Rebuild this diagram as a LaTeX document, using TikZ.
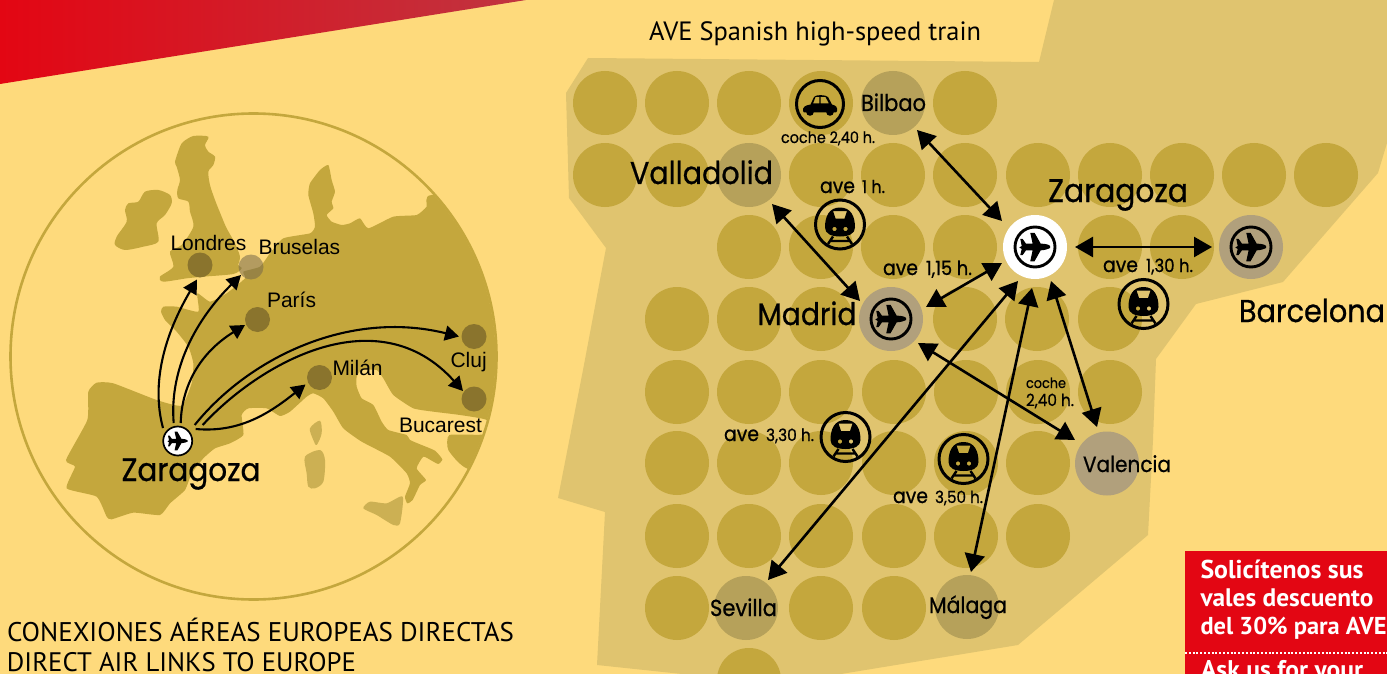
\documentclass[tikz,border=0pt]{standalone}
\usepackage{fontspec}
\setmainfont{Liberation Sans}
\newfontfamily\techfont[FakeBold=0.7]{Poppins}
\newfontfamily\dinfont{PT Sans}
\usetikzlibrary{arrows.meta,calc}
\definecolor{bgc}{HTML}{FEDA7C}
\definecolor{landc}{HTML}{C4A73D}
\definecolor{isle}{HTML}{CCB053}
\definecolor{mapc}{HTML}{E0C46F}
\definecolor{dotc}{HTML}{8A742D}
\definecolor{greyA}{HTML}{B6A15A}
\definecolor{greyB}{HTML}{B1A07C}
\definecolor{redc}{HTML}{E30613}
\definecolor{redm}{HTML}{D91C28}
\definecolor{redr}{HTML}{C03440}
\newcommand\fitw[2]{\resizebox{#1pt}{!}{#2}}
\newcommand\tech[2]{\scalebox{1}[1.1]{\fitw{#1}{\techfont #2}}}
\newcommand\din[2]{\fitw{#1}{\dinfont #2}}
\newcommand\dinb[2]{\fitw{#1}{\dinfont\bfseries #2}}
\tikzset{
  lab/.style={anchor=base west,inner sep=0pt,outer sep=0pt},
  disc/.style={circle,fill=landc,minimum size=64pt,inner sep=0pt,outer sep=0pt},
  greyone/.style={disc,fill=greyA},
  greytwo/.style={disc,fill=greyB},
  citydot/.style={circle,fill=dotc,minimum size=25pt,inner sep=0pt,outer sep=0pt},
  twoway/.style={line width=2.6pt,{Triangle[length=18pt,width=20pt]}-{Triangle[length=18pt,width=20pt]}},
  flight/.style={line width=2.1pt,-{Triangle[length=14pt,width=15pt]}},
  maplabel/.style={lab,font=\fontsize{21}{21}\selectfont},
  pics/planeglyph/.style={code={
    \fill (16,-1) .. controls (14,-3) and (10,-3.5) .. (6,-3.5) -- (-0.5,-15) -- (-5,-15) -- (-2.5,-3.5) -- (-9.5,-3.5)
      -- (-13,-8.5) -- (-15.5,-8.5) -- (-14,-1) -- (-16.5,0.5) -- (-14,2) -- (-15.5,8.5) -- (-13,8.5) -- (-9.5,3.5)
      -- (-2.5,3.5) -- (-5,15) -- (-0.5,15) -- (6,3.5) .. controls (10,3.5) and (14,2) .. (16,1) -- cycle;
  }},
  pics/planeicon/.style={code={
    \draw[line width=2.9pt] (0,0) circle[radius=20];
    \pic[scale=.95] {planeglyph};
  }},
  pics/trainicon/.style={code={
    \draw[line width=3pt] (0,0) circle[radius=24.5];
    \fill[even odd rule] (-15,3) .. controls (-15,-8) and (-11,-17) .. (0,-17) .. controls (11,-17) and (15,-8) .. (15,3)
        .. controls (15,9) and (9,12) .. (0,12) .. controls (-9,12) and (-15,9) .. (-15,3) -- cycle
      (-7,-13.5) -- (7,-13.5) -- (4.5,-6) -- (-4.5,-6) -- cycle
      (-5.5,4.5) circle[radius=2.2] (5.5,4.5) circle[radius=2.2];
    \draw[line width=2.4pt] (-7,12) -- (-12,19.5) (7,12) -- (12,19.5) (-9,16.5) -- (9,16.5);
  }},
  pics/caricon/.style={code={
    \draw[line width=3pt] (0,0) circle[radius=23.5];
    \fill[even odd rule] (-17,7) .. controls (-17.5,3) and (-15,1.5) .. (-9.5,0.5) -- (-6,-7) .. controls (-5,-9.5) and (6,-9.5) .. (8,-7)
        -- (12,0.5) .. controls (16,1.5) and (17.5,3) .. (17,7) -- (16,8.5) -- (-16,8.5) -- cycle
      (-4.5,-7) -- (-0.7,-7) -- (-0.7,-0.5) -- (-7,-0.5) -- cycle
      (0.7,-7) -- (5.5,-7) -- (9,-0.5) -- (0.7,-0.5) -- cycle;
    \fill (-10,8) circle[radius=3.8] (10,8) circle[radius=3.8];
  }},
}
\begin{document}
\begin{tikzpicture}[x=1pt,y=-1pt]
\useasboundingbox (0,0) rectangle (1387,674);
\clip (0,0) rectangle (1387,674);
\fill[bgc] (0,0) rectangle (1387,674);
% red corner
\shade[left color=redc,middle color=redm,right color=redr] (0,0) -- (526,0) -- (0,84) -- cycle;

% Europe map
\begin{scope}
  \clip (253.5,356.5) circle[radius=242];
  \begin{scope}[shift={(0,100)},x=0.33333pt,y=-0.33333pt]
    \fill[landc] plot[smooth cycle,tension=.45] coordinates {(550,125)(580,108)(625,110)(615,135)(625,155)(645,170)(640,195)(625,215)(630,255)(645,300)(665,350)(680,385)(705,430)(720,470)(715,495)(725,505)(700,522)(610,530)(560,535)(490,545)(480,530)(520,500)(510,455)(545,435)(580,380)(570,335)(565,305)(535,295)(532,270)(540,240)(530,200)(525,185)(540,140)};
    \fill[landc] plot[smooth cycle,tension=.45] coordinates {(375,330)(385,310)(415,305)(435,275)(475,270)(510,285)(515,310)(495,345)(470,370)(475,425)(430,440)(375,450)(345,435)(350,410)(380,365)};
    \fill[landc] plot[smooth cycle,tension=.3] coordinates {(265,875)(290,848)(340,850)(470,900)(545,917)(575,850)(580,790)(565,740)(530,695)(495,660)(483,635)(490,620)(530,620)(595,635)(592,580)(630,605)(680,580)(735,535)(730,515)(780,500)(810,460)(850,415)(930,400)(945,380)(940,340)(925,285)(930,250)(960,210)(985,195)(995,240)(1005,275)(995,305)(1000,325)(980,345)(995,365)(1025,375)(1050,370)(1080,355)(1105,385)(1180,350)(1250,345)(1280,320)(1295,285)(1600,300)(1700,700)(1600,1150)(1400,1105)(1345,1050)(1348,1005)(1455,1003)(1460,960)(1380,945)(1300,935)(1240,925)(1180,885)(1150,835)(1130,810)(1085,810)(1070,830)(1070,860)(1085,895)(1120,915)(1145,965)(1165,990)(1220,1005)(1230,1020)(1265,1035)(1305,1052)(1327,1078)(1315,1092)(1295,1082)(1270,1070)(1250,1105)(1278,1140)(1260,1155)(1238,1200)(1222,1210)(1215,1190)(1230,1150)(1220,1120)(1170,1070)(1085,1025)(1030,985)(1000,935)(970,895)(940,880)(920,890)(870,935)(840,948)(800,925)(745,925)(725,945)(730,1005)(690,1030)(645,1045)(610,1075)(575,1120)(555,1170)(510,1210)(480,1245)(400,1238)(335,1258)(320,1250)(290,1190)(200,1165)(225,1100)(198,1080)(262,960)};
    \fill[isle] plot[smooth cycle,tension=.5] coordinates {(930,985)(960,962)(965,1000)(950,1035)(940,1020)};
    \fill[isle] plot[smooth cycle,tension=.5] coordinates {(915,1070)(960,1050)(975,1080)(970,1145)(945,1165)(925,1160)(920,1120)};
    \fill[isle] plot[smooth cycle,tension=.4] coordinates {(1090,1225)(1110,1205)(1160,1210)(1208,1190)(1200,1270)(1180,1275)(1130,1245)};
  \end{scope}
\end{scope}
\draw[landc,line width=2.6pt] (253.5,356.5) circle[radius=243];

% Europe cities
\node[citydot] (lon) at (200,265) {};
\node[citydot,fill=black!55!bgc!75!gray,fill opacity=.55] (bru) at (251,267) {};
\node[citydot] (par) at (257.5,319.5) {};
\node[citydot] (mil) at (319.5,377.5) {};
\node[citydot] (clu) at (474,336.5) {};
\node[citydot] (buc) at (474,399) {};
\node[circle,draw=black,line width=1.7pt,fill=white,minimum size=29pt,inner sep=0pt] (zsm) at (177.7,441) {};
\pic[scale=.62] at (zsm) {planeglyph};
\node[maplabel] (tlon) at (170.5,250) {Londres};
\node[maplabel] (tbru) at (258.5,254) {Bruselas};
\node[maplabel] (tpar) at (267,307) {París};
\node[maplabel] (tmil) at (332.5,375) {Milán};
\node[maplabel] (tclu) at (450.5,367) {Cluj};
\node[maplabel] (tbuc) at (399,432) {Bucarest};
\node[lab] (tzsm) at (121.5,481) {\tech{139}{Zaragoza}};

% Flights
\draw[flight] ($(zsm)+(-14.7,-13)$) .. controls ($(zsm)+(-25,-51)$) and ($(zsm)+(-18,-98)$) .. ($(lon)+(-3,14.5)$);
\draw[flight] ($(zsm)+(-4,-18)$) .. controls ($(zsm)+(-8,-65)$) and ($(zsm)+(12,-115)$) .. ($(bru)+(-10,8)$);
\draw[flight] ($(zsm)+(3,-18)$) .. controls ($(zsm)+(4,-55)$) and ($(zsm)+(22,-88)$) .. ($(par)+(-12.5,5.5)$);
\draw[flight] ($(zsm)+(17,-16)$) .. controls ($(zsm)+(70,-82)$) and ($(zsm)+(170,-132)$) .. ($(clu)+(-15,0)$);
\draw[flight] ($(zsm)+(25,-16)$) .. controls ($(zsm)+(82,-78)$) and ($(zsm)+(200,-145)$) .. ($(buc)+(-11,-8)$);
\draw[flight] ($(zsm)+(18,-12)$) .. controls ($(zsm)+(62,-8)$) and ($(zsm)+(92,-28)$) .. ($(mil)+(-14,7)$);

% Spain map
\fill[mapc] (588,58) -- (566,93) -- (569,198) -- (606,248) -- (583,370) -- (558,498) -- (605,512) -- (597,665) -- (682,674)
  -- (841,674) -- (1018,645) -- (1148,535) -- (1153,440) -- (1156,359) -- (1196,304) -- (1283,282) -- (1378,173) -- (1387,143)
  -- (1387,0) -- (1054,0) -- (1039,62) -- cycle;
\foreach \x/\y [count=\i] in {605/103,677/103,749/103,821/103,965/103,
  605/175,677/175,821/175,893/175,965/175,1038/175,1110/175,1182/175,1254/175,1326/175,
  749/247,821/247,893/247,965/247,1110/247,1182/247,
  677/319,749/319,821/319,965/319,1037/319,1110/319,
  677/392,749/392,821/392,894/392,966/392,1038/392,1110/392,
  677/463,749/463,821/463,894/463,966/463,1038/463,
  677/536,749/536,821/536,894/536,966/536,1038/536,
  677/608,821/608,894/608,
  749/680}
  \node[disc] (g\i) at (\x,\y) {};
\node[greyone] (bil) at (893,103) {};
\node[greyone] (val) at (749,175) {};
\node[greytwo] (mad) at (891,319) {};
\node[disc,fill=white] (zar) at (1035,247) {};
\node[greytwo] (bar) at (1251,247) {};
\node[greytwo] (vlc) at (1107,463.5) {};
\node[greyone] (sev) at (746,608) {};
\node[greyone] (mal) at (967,607) {};

\pic at (mad) {planeicon};
\pic at (zar) {planeicon};
\pic at (bar) {planeicon};
\pic at (820,104) {caricon};
\pic at (840,224.5) {trainicon};
\pic at (1143.5,304) {trainicon};
\pic at (845.5,437) {trainicon};
\pic at (963.5,459) {trainicon};

% Connectors
\draw[twoway] ($(zar)+(-33,-26)$) -- ($(bil)+(24,27)$);
\draw[twoway] ($(val)+(23,29)$) -- ($(mad)+(-31,-18)$);
\draw[twoway] ($(zar)+(-33,16)$) -- ($(mad)+(35,-12)$);
\draw[twoway] ($(zar)+(-17,34)$) -- ($(sev)+(22,-28)$);
\draw[twoway] ($(zar)+(-3,41)$) -- ($(mal)+(4,-35)$);
\draw[twoway] ($(zar)+(16,34)$) -- ($(vlc)+(-10,-36.5)$);
\draw[twoway] ($(mad)+(27,24)$) -- ($(vlc)+(-32,-23.5)$);
\draw[twoway] ($(zar)+(40,0)$) -- ($(bar)+(-39,0)$);

% Spain labels
\node[lab] (tval) at (630,184) {\tech{143}{Valladolid}};
\node[lab] (tbil) at (861,111) {\tech{65}{Bilbao}};
\node[lab] (tmad) at (757.5,325) {\tech{99}{Madrid}};
\node[lab] (tzar) at (1048,202) {\tech{140}{Zaragoza}};
\node[lab] (tbar) at (1239,322) {\tech{146}{Barcelona}};
\node[lab] (tvlc) at (1083,472) {\tech{88}{Valencia}};
\node[lab] (tsev) at (710,616) {\tech{67}{Sevilla}};
\node[lab] (tmal) at (929,613) {\tech{78}{Málaga}};
\node[lab] (c1) at (781,143) {\tech{94}{coche 2,40 h.}};
\node[lab] (a1) at (820,193) {\tech{35}{ave}\hspace{7pt}\tech{23}{1 h.}};
\node[lab] (a2) at (883,275) {\tech{35}{ave}\hspace{8pt}\tech{46}{1,15 h.}};
\node[lab] (a3) at (1103,272) {\tech{35}{ave}\hspace{8pt}\tech{47}{1,30 h.}};
\node[lab] (c2a) at (1026,388) {\tech{40}{coche}};
\node[lab] (c2b) at (1026,406) {\tech{48}{2,40 h.}};
\node[lab] (a4) at (724,441) {\tech{35}{ave}\hspace{7pt}\tech{48}{3,30 h.}};
\node[lab] (a5) at (893,503) {\tech{35}{ave}\hspace{7pt}\tech{48}{3,50 h.}};

% Plain texts
\node[lab] (tave) at (649,41) {\din{332}{AVE Spanish high-speed train}};
\node[lab] (tcon) at (7,641) {\din{507}{CONEXIONES AÉREAS EUROPEAS DIRECTAS}};
\node[lab] (tdir) at (7,671) {\din{349}{DIRECT AIR LINKS TO EUROPE}};

% Red box
\fill[redc] (1185,551) rectangle (1387,674);
\node[lab,text=white] (r1) at (1200.5,578) {\dinb{163}{Solicítenos sus}};
\node[lab,text=white] (r2) at (1200.5,606) {\dinb{173}{vales descuento}};
\node[lab,text=white] (r3) at (1200.5,634) {\dinb{186}{del 30\% para AVE}};
\node[lab,text=white] (r4) at (1201,678) {\dinb{162}{Ask us for your}};
\coordinate (da) at (1185,653);
\coordinate (db) at (1387,653);
\draw[white,line width=1.8pt,dash pattern=on 2pt off 1.8pt] (da) -- (db);
\end{tikzpicture}
\end{document}
